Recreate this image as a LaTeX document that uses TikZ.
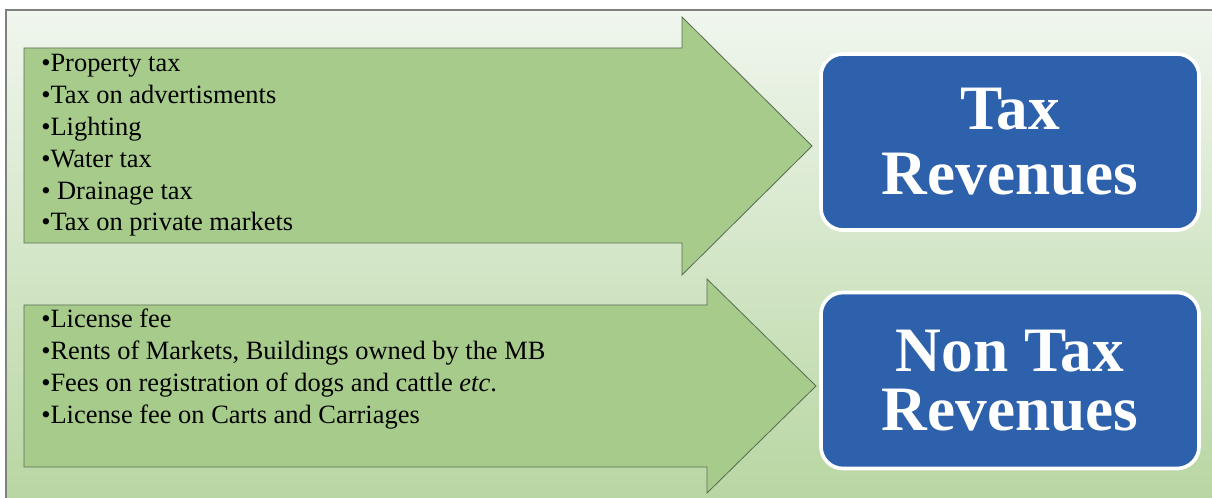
\documentclass[tikz,border=0pt]{standalone}
\usepackage{fontspec}
\setmainfont{Liberation Serif}
\definecolor{bgtop}{HTML}{F0F6EE}
\definecolor{bgbot}{HTML}{B8D6A2}
\definecolor{arrowgreen}{HTML}{A7CB8B}
\definecolor{arrowline}{HTML}{5A6E55}
\definecolor{revblue}{HTML}{2E61AC}

\begin{document}
\begin{tikzpicture}[x=0.025cm,y=-0.025cm,
 item/.style={anchor=base west,inner sep=0pt,font=\fontsize{18.8}{22.6}\selectfont},
 revbox/.style={draw=white,line width=2.6pt,fill=revblue,rounded corners=0.55cm,
  minimum width=9.45cm,minimum height=4.4cm,text=white,align=center,
  font=\bfseries\fontsize{45}{46}\selectfont},
 blockarrow/.style={fill=arrowgreen,draw=arrowline,line width=0.6pt}]
 \useasboundingbox (0,0) rectangle (1212,498);
 % background panel
 \shade[top color=bgtop,bottom color=bgbot] (6,10) rectangle (1212,498);
 \draw[black!50,line width=0.8pt] (6,498)--(6,10)--(1212,10);
 % block arrows
 \draw[blockarrow] (24,48)--(682,48)--(682,17)--(812,146)--(682,275)--(682,243)--(24,243)--cycle;
 \draw[blockarrow] (24,305)--(707,305)--(707,279)--(816,386)--(707,493)--(707,467)--(24,467)--cycle;
 \foreach \txt [count=\i from 0] in {•Property tax,•Tax on advertisments,•Lighting,•Water tax,• Drainage tax,•Tax on private markets}
  \node[item] (tax\i) at (41,72+31.8*\i) {\txt};
 \foreach \txt [count=\i from 0] in {•License fee,{•Rents of Markets, Buildings owned by the MB},{•Fees on registration of dogs and cattle \textit{etc}.},•License fee on Carts and Carriages}
  \node[item] (fee\i) at (41,328+31.8*\i) {\txt};
 % revenue boxes
 \node[revbox] (taxrev) at (1010,142) {Tax\\Revenues};
 \node[revbox,font=\bfseries\fontsize{45}{41.5}\selectfont] (nontaxrev) at (1010,380.5) {Non Tax\\Revenues};
\end{tikzpicture}
\end{document}
